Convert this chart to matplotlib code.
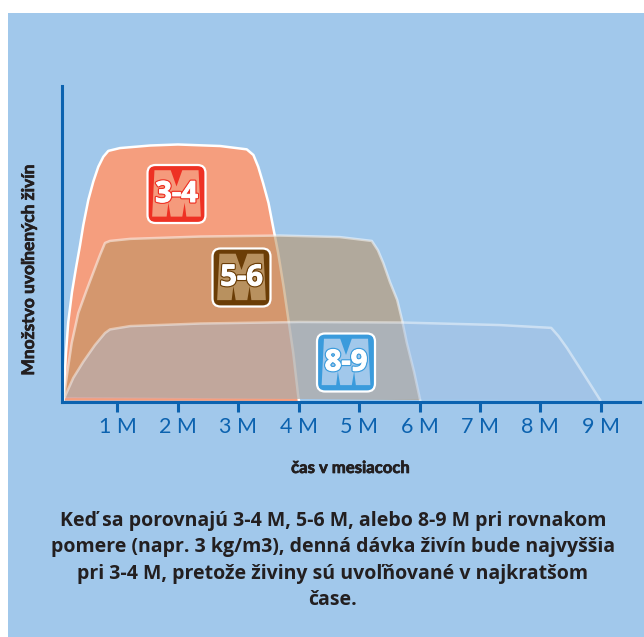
#!/usr/bin/env python

# Release curves of three fertilizer longevities, Slovak infographic.

import matplotlib
matplotlib.use('Agg')
import matplotlib.pyplot as plt
import matplotlib.patheffects as pe
from matplotlib.patches import FancyBboxPatch, Polygon, Rectangle

# release curves: month, amount (3-4 M peak = 100)
m_34 = [0.106, 0.119, 0.147, 0.185, 0.247, 0.313, 0.379, 0.434, 0.517, 0.599, 0.682, 0.765, 0.848, 1.04, 1.54, 2.00, 2.70,
        3.14, 3.25, 3.33, 3.41, 3.50, 3.58, 3.66, 3.75, 3.83, 3.91, 3.99, 4.005]
a_34 = [0.4, 7.2, 18.9, 31, 42.7, 52.1, 60.8, 68.8, 78.6, 85.7, 91.5, 95.4, 97.7, 98.8, 99.8, 100.2, 99.6,
        98.3, 96.1, 91.5, 85.2, 77.4, 67.6, 57.9, 44.8, 31.8, 18.9, 2.5, 0.2]

m_56 = [0.114, 0.159, 0.242, 0.351, 0.49, 0.616, 0.71, 0.793, 0.876, 1.21, 2.37, 3.69, 4.68,
        5.21, 5.31, 5.40, 5.51, 5.63, 5.71, 5.79, 5.91, 6.01]
a_56 = [1.8, 9.6, 22.8, 34.5, 43.5, 51.3, 57.1, 61.8, 62.6, 63.4, 64.3, 64.7, 64.1,
        62.6, 59, 54, 46.6, 39.6, 31.8, 22.8, 11.5, 0.6]

m_89 = [0.118, 0.268, 0.434, 0.627, 0.793, 0.876, 1.21, 2.37, 4.02, 5.68, 7.33, 8.18, 8.30, 8.44, 8.71, 8.99]
a_89 = [1.3, 9.2, 15.5, 22, 26.7, 28.1, 29.4, 30.4, 31, 30.8, 29.8, 28.7, 25.5, 20.9, 11, 0.6]

months = [1, 2, 3, 4, 5, 6, 7, 8, 9]
tick_labels = ['1 M', '2 M', '3 M', '4 M', '5 M', '6 M', '7 M', '8 M', '9 M']

badge_labels = ['3-4', '5-6', '8-9']

y_title = 'Množstvo uvoľnených živín'
x_title = 'čas v mesiacoch'
caption = ['Keď sa porovnajú 3-4 M, 5-6 M, alebo 8-9 M pri rovnakom',
           'pomere (napr. 3 kg/m3), denná dávka živín bude najvyššia',
           'pri 3-4 M, pretože živiny sú uvoľňované v najkratšom',
           'čase.']

W, H = 644, 637
BG = '#A1C8EB'
AXIS = '#0B62AF'
DARK = '#231F20'
M_SHAPE = [(.12, .09), (.40, .09), (.5, .37), (.60, .09), (.88, .09), (.92, .89), (.67, .89),
           (.64, .65), (.60, .89), (.40, .89), (.36, .65), (.33, .89), (.08, .89)]


def badge(ov, x, y, size, label, dark, light):
  ov.add_patch(FancyBboxPatch((x + 7, y + 7), size - 14, size - 14, boxstyle='round,pad=7,rounding_size=8',
                              fc=dark, ec='white', lw=1.6, mutation_aspect=1))
  ov.add_patch(Polygon([(x + px * size, y + py * size) for px, py in M_SHAPE], closed=True, fc=light, ec='none'))
  ov.text(x + size / 2, y + size / 2 + 0.5, label, color='white', fontsize=21, fontweight='bold', family='Open Sans',
          ha='center', va='center',
          path_effects=[pe.Stroke(linewidth=2.4, foreground=dark), pe.Stroke(linewidth=0.7, foreground='white'), pe.Normal()])


fig = plt.figure(figsize=(W / 100, H / 100), dpi=100, facecolor='white')
fig.add_artist(Rectangle((8 / W, 0), 1 - 8 / W, 1 - 13 / H, transform=fig.transFigure, fc=BG, ec='none', zorder=-1))

ax = fig.add_axes([61.5 / W, (H - 401.5) / H, (640 - 61.5) / W, (401.5 - 86) / H])
ax.patch.set_alpha(0)

# later curves sit on top of the earlier ones, outline included
ax.fill(m_34, a_34, color='#F59E7E', lw=0, zorder=1)
ax.plot(m_34, a_34, color='white', lw=1.8, zorder=2)
ax.fill(m_56, a_56, color='#BD9363', alpha=0.58, lw=0, zorder=3)
ax.plot(m_56, a_56, color='white', alpha=0.5, lw=1.8, zorder=4)
ax.fill(m_89, a_89, color='#A6C0E3', alpha=0.4, lw=0, zorder=5)
ax.plot(m_89, a_89, color='white', alpha=0.45, lw=1.8, zorder=6)

ax.set_xlim(0.073, 9.65)
ax.set_ylim(0, 123)
ax.set_xticks(months)
ax.set_xticklabels(tick_labels, family='Lato', fontsize=15.5, color=AXIS)
ax.set_yticks([])
ax.tick_params(axis='x', length=7.5, width=2.2, color=AXIS, pad=4)
for side in ['top', 'right']:
  ax.spines[side].set_visible(False)
for side in ['left', 'bottom']:
  ax.spines[side].set_color(AXIS)
  ax.spines[side].set_linewidth(2.2)
  ax.spines[side].set_zorder(7)

# overlay in picture pixels for badges and text
ov = fig.add_axes([0, 0, 1, 1], zorder=3)
ov.set_xlim(0, W)
ov.set_ylim(H, 0)
ov.axis('off')

badge(ov, 147.5, 165, 58, badge_labels[0], '#EE3124', '#F59A7C')
badge(ov, 212.5, 248.5, 58, badge_labels[1], '#6B3D06', '#B8915F')
badge(ov, 317, 333.5, 58, badge_labels[2], '#3A9BDC', '#A1C8EB')

heavy = [pe.withStroke(linewidth=0.5, foreground=DARK)]
ov.text(29, 270, y_title, rotation=90, ha='center', va='center', family='Lato', fontweight='bold', fontsize=12.5, color=DARK, path_effects=heavy)
ov.text(350, 468, x_title, ha='center', va='center', family='Lato', fontweight='bold', fontsize=12, color=DARK, path_effects=heavy)

for i, line in enumerate(caption):
  ov.text(333, 521 + i * 26.4, line, ha='center', va='center', family='Open Sans', fontweight='bold', fontsize=14, color=DARK)

fig.savefig('out.png', dpi=100)
